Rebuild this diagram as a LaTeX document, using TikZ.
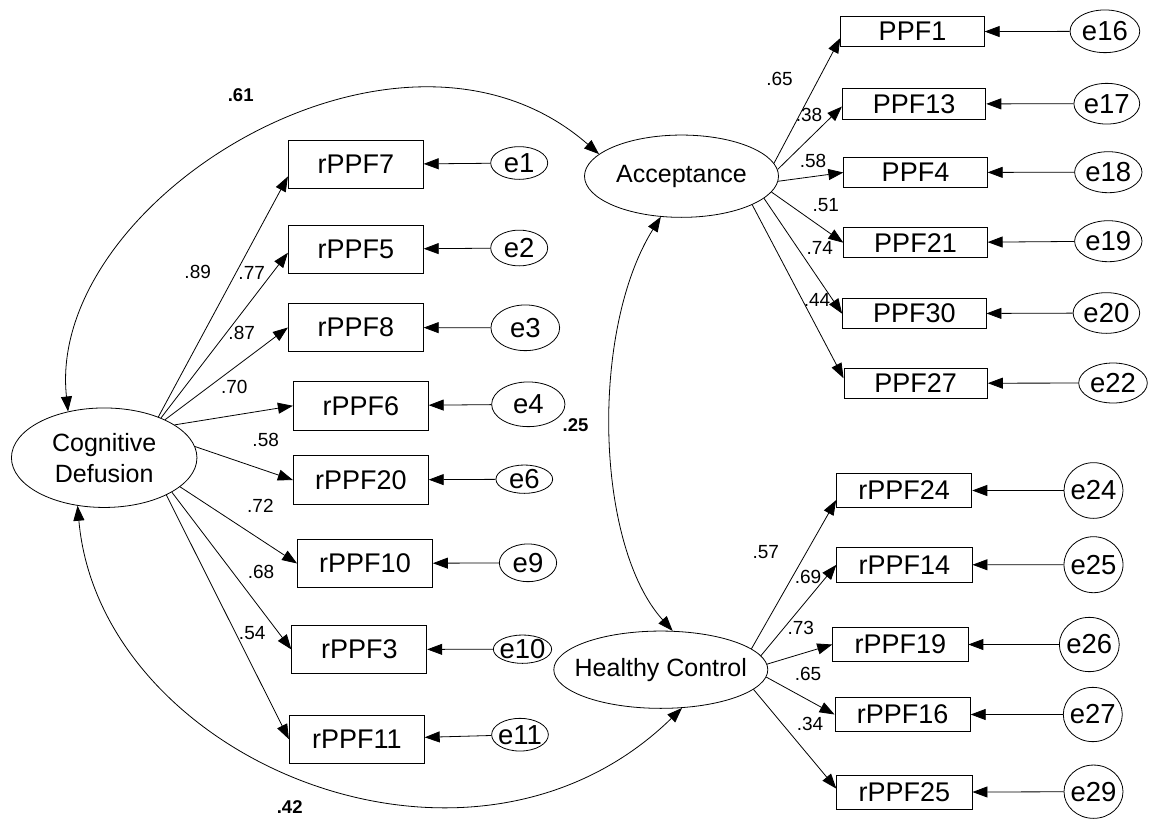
\documentclass[tikz,border=0pt]{standalone}
\usepackage{fontspec}
\setmainfont{Liberation Sans}
\usetikzlibrary{shapes.geometric,arrows.meta}
\newcommand{\obsfont}{\fontsize{27}{30}\selectfont}
\newcommand{\errfont}{\fontsize{27.5}{30}\selectfont}
\newcommand{\latfont}{\fontsize{25}{31}\selectfont}
\newcommand{\loadfont}{\fontsize{19}{21}\selectfont}
\newcommand{\corrfont}{\bfseries\fontsize{18.5}{21}\selectfont}
\tikzset{
  obs/.style={draw, rectangle, inner sep=0pt, minimum width=135pt, minimum height=48.5pt, font=\obsfont},
  obsa/.style={obs, minimum width=143.5pt, minimum height=30.3pt},
  obsh/.style={obs, minimum width=135.3pt, minimum height=34.4pt},
  err/.style={draw, ellipse, inner sep=0pt, label={[font=\errfont]center:#1}},
  lat/.style={draw, ellipse, inner sep=0pt},
  load/.style={font=\loadfont, inner sep=0pt},
  corr/.style={font=\corrfont, inner sep=0pt},
  arr/.style={-{Triangle[length=15pt,width=11pt]}},
  biarr/.style={{Triangle[length=15pt,width=11pt]}-{Triangle[length=15pt,width=11pt]}},
}
\begin{document}
\begin{tikzpicture}[x=1pt, y=-1pt, line width=0.8pt]
\useasboundingbox (0,0) rectangle (1157,819);

% latent factors
\node[lat, minimum width=185.5pt, minimum height=99.5pt,
      label={[font=\latfont, align=center]center:{Cognitive\\Defusion}}] (cog) at (104.2,457.7) {};
\node[lat, minimum width=194pt, minimum height=82.3pt,
      label={[font=\latfont]center:Acceptance}] (acc) at (681.5,176.2) {};
\node[lat, minimum width=214pt, minimum height=77.3pt,
      label={[font=\latfont]center:Healthy Control}] (hc) at (660.8,669.7) {};

% indicators of Cognitive Defusion
\node[obs] (b7)  at (355.8,164.5) {rPPF7};
\node[obs] (b5)  at (355.8,249.2) {rPPF5};
\node[obs] (b8)  at (355.8,327.5) {rPPF8};
\node[obs] (b6)  at (360.8,405.8) {rPPF6};
\node[obs] (b20) at (360.8,480.0) {rPPF20};
\node[obs] (b10) at (365.0,563.5) {rPPF10};
\node[obs] (b3)  at (359.3,649.5) {rPPF3};
\node[obs] (b11) at (356.8,739.2) {rPPF11};

\node[err=e1,  minimum width=57pt,   minimum height=32.7pt] (e1)  at (519.2,163.0) {};
\node[err=e2,  minimum width=57pt,   minimum height=35.7pt] (e2)  at (519.2,248.0) {};
\node[err=e3,  minimum width=68.7pt, minimum height=45.7pt] (e3)  at (525.3,327.8) {};
\node[err=e4,  minimum width=73.3pt, minimum height=44.7pt] (e4)  at (528.3,404.3) {};
\node[err=e6,  minimum width=56.7pt, minimum height=28.3pt] (e6)  at (524.3,479.2) {};
\node[err=e9,  minimum width=57.3pt, minimum height=37.7pt] (e9)  at (528.0,562.8) {};
\node[err=e10, minimum width=58.3pt, minimum height=28.3pt] (e10) at (522.5,649.2) {};
\node[err=e11, minimum width=56.7pt, minimum height=32.7pt] (e11) at (520.0,734.7) {};

% indicators of Acceptance
\node[obsa] (p1)  at (912.5,31.7)  {PPF1};
\node[obsa] (p13) at (914.1,104.0) {PPF13};
\node[obsa] (p4)  at (915.5,172.5) {PPF4};
\node[obsa] (p21) at (915.5,242.7) {PPF21};
\node[obsa] (p30) at (914.3,313.7) {PPF30};
\node[obsa] (p27) at (915.7,383.3) {PPF27};

\node[err=e16, minimum width=69.7pt, minimum height=42.7pt] (e16) at (1104.9,31.3) {};
\node[err=e17, minimum width=65.8pt, minimum height=40.7pt] (e17) at (1106.8,103.7) {};
\node[err=e18, minimum width=67.4pt, minimum height=41pt]   (e18) at (1108.3,172.2) {};
\node[err=e19, minimum width=67.4pt, minimum height=41pt]   (e19) at (1108.3,241.2) {};
\node[err=e20, minimum width=66.6pt, minimum height=40.7pt] (e20) at (1106.4,313.0) {};
\node[err=e22, minimum width=68.6pt, minimum height=40pt]   (e22) at (1113.0,383.0) {};

% indicators of Healthy Control
\node[obsh] (h24) at (904.2,490.5) {rPPF24};
\node[obsh] (h14) at (904.4,564.8) {rPPF14};
\node[obsh] (h19) at (900.3,644.5) {rPPF19};
\node[obsh] (h16) at (902.6,714.5) {rPPF16};
\node[obsh] (h25) at (904.4,792.2) {rPPF25};

\node[err=e24, minimum width=59pt,   minimum height=55.7pt] (e24) at (1093.5,490.5) {};
\node[err=e25, minimum width=59pt,   minimum height=56pt]   (e25) at (1093.5,564.7) {};
\node[err=e26, minimum width=59.9pt, minimum height=54.3pt] (e26) at (1089.3,644.5) {};
\node[err=e27, minimum width=59pt,   minimum height=54.3pt] (e27) at (1092.8,714.5) {};
\node[err=e29, minimum width=59pt,   minimum height=53.3pt] (e29) at (1093.5,791.7) {};

% factor loadings
\draw[arr] (cog.37.2)  -- (b7.190.2);
\draw[arr] (cog.35.4)  -- (b5.183.4);
\draw[arr] (cog.32.3)  -- (b8.west);
\draw[arr] (cog.25.4)  -- (b6.west);
\draw[arr] (cog.7.7)   -- (b20.west);
\draw[arr] (cog.-21.8) -- (b10.west);
\draw[arr] (cog.-27)   -- (b3.west);
\draw[arr] (cog.-31.7) -- (b11.west);

\draw[arr] (acc.8)     -- (p1.185.2);
\draw[arr] (acc.4.7)   -- (p13.182);
\draw[arr] (acc.-3.2)  -- (p4.west);
\draw[arr] (acc.-10.3) -- (p21.west);
\draw[arr] (acc.-15.2) -- (p30.west);
\draw[arr] (acc.-22)   -- (p27.176);

\draw[arr] (hc.13.1)  -- (h24.188);
\draw[arr] (hc.8.4)   -- (h14.west);
\draw[arr] (hc.3.4)   -- (h19.west);
\draw[arr] (hc.-4.6)  -- (h16.west);
\draw[arr] (hc.-12.4) -- (h25.177);

% error terms
\foreach \e/\b in {e1/b7, e2/b5, e3/b8, e4/b6, e6/b20, e9/b10, e10/b3, e11/b11,
                   e16/p1, e17/p13, e18/p4, e19/p21, e20/p30, e22/p27,
                   e24/h24, e25/h14, e26/h19, e27/h16, e29/h25}
  \draw[arr] (\e) -- (\b);

% factor correlations
\draw[biarr] (cog.128.5) .. controls (45,200) and (400,-20) .. (acc.165.9);
\draw[biarr] (acc.-117.7) .. controls (590,330) and (595,545) .. (hc.73.6);
\draw[biarr] (cog.-119) .. controls (100,760) and (470,915) .. (hc.-61.5);

% loading values
\node[load] (l89) at (197.7,271.7) {.89};
\node[load] (l77) at (251.7,272.7) {.77};
\node[load] (l87) at (241.7,333.3) {.87};
\node[load] (l70) at (234.3,386.7) {.70};
\node[load] (l58) at (265.7,440.0) {.58};
\node[load] (l72) at (260.4,506.0) {.72};
\node[load] (l68) at (261.0,571.7) {.68};
\node[load] (l54) at (252.2,633.3) {.54};

\node[load] (a65) at (779.6,79.0)  {.65};
\node[load] (a38) at (809.1,115.0) {.38};
\node[load] (a58) at (813.0,161.0) {.58};
\node[load] (a51) at (825.7,205.0) {.51};
\node[load] (a74) at (819.7,248.0) {.74};
\node[load] (a44) at (817.0,300.0) {.44};

\node[load] (h57l) at (765.8,551.7) {.57};
\node[load] (h69l) at (808.0,577.3) {.69};
\node[load] (h73l) at (800.8,627.7) {.73};
\node[load] (h65l) at (808.0,674.3) {.65};
\node[load] (h34l) at (810.0,724.0) {.34};

% correlation values
\node[corr] (c61) at (240.7,95.0)  {.61};
\node[corr] (c25) at (575.5,425.0) {.25};
\node[corr] (c42) at (289.7,806.7) {.42};
\end{tikzpicture}
\end{document}
